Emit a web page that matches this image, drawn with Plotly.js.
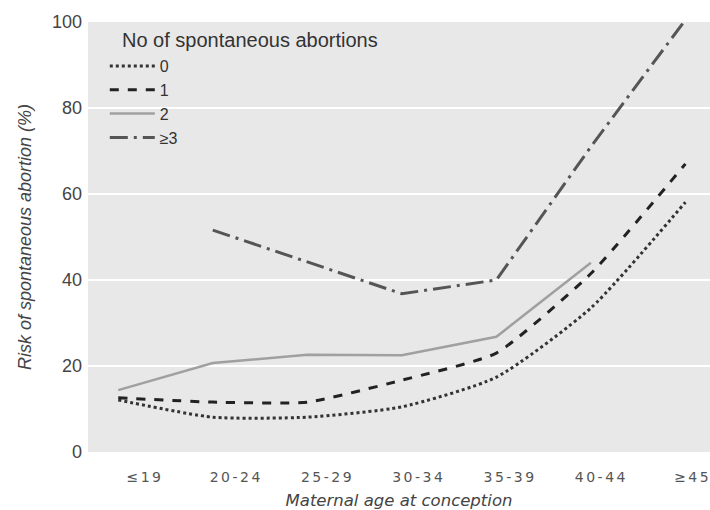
<!DOCTYPE html>
<html><head><meta charset="utf-8">
<script src="https://cdn.plot.ly/plotly-3.0.1.min.js"></script>
<style>
body{margin:0;background:#fff}
.x2tick text{letter-spacing:2.5px}
</style>
</head><body>
<div id="chart" style="width:710px;height:510px"></div>
<script>
const categories = ["≤19","20-24","25-29","30-34","35-39","40-44","≥45"];
const seriesNames = ["0","1","2","≥3"];
const legendTitle = "No of spontaneous abortions";
const risk0 = [12.1, 8.1, 8.1, 10.5, 17.4, 33.5, 58.1];
const risk1 = [12.6, 11.6, 11.6, 16.7, 23.0, 41.5, 67.0];
const risk2 = [14.4, 20.7, 22.6, 22.5, 26.8, 44.0, null];
const risk3 = [null, 51.6, 44.2, 36.8, 40.0, 71.0, 100.5];

const common = {type:'scatter', mode:'lines', x: categories, hoverinfo:'skip'};
const traces = [
  Object.assign({}, common, {name: seriesNames[0], y: risk0, line:{color:'#333', width:3, dash:'dot', shape:'spline', smoothing:0.6}}),
  Object.assign({}, common, {name: seriesNames[1], y: risk1, line:{color:'#222', width:3, dash:'dash', shape:'spline', smoothing:0.5}}),
  Object.assign({}, common, {name: seriesNames[2], y: risk2, line:{color:'#a0a0a0', width:2.5}}),
  Object.assign({}, common, {name: seriesNames[3], y: risk3, line:{color:'#555', width:3, dash:'18px,6px,3px,6px'}}),
  // label axis carrier (no visible marks)
  {type:'scatter', mode:'none', x: categories, y: categories.map(() => null), xaxis:'x2', yaxis:'y', showlegend:false, hoverinfo:'skip'}
];

const layout = {
  width:710, height:510,
  margin:{l:88, r:0, t:22, b:58},
  paper_bgcolor:'#ffffff', plot_bgcolor:'#e8e8e8',
  font:{family:'Liberation Sans, Arial, sans-serif', color:'#444'},
  showlegend:true,
  legend:{
    x:0.027, y:0.937, xanchor:'left', yanchor:'top',
    bgcolor:'rgba(0,0,0,0)', borderwidth:0, itemwidth:45,
    font:{size:16, color:'#333'},
    tracegroupgap:0
  },
  annotations:[{
    text: legendTitle, xref:'paper', yref:'paper', x:0.0514, y:0.958,
    xanchor:'left', yanchor:'middle', showarrow:false,
    font:{size:20, color:'#333'}
  }],
  xaxis:{
    type:'category', range:[-0.32, 6.26],
    showgrid:false, zeroline:false, showline:false, ticks:'', showticklabels:false
  },
  xaxis2:{
    type:'category', overlaying:'x', anchor:'y', side:'bottom', range:[-0.624, 6.19],
    showgrid:false, zeroline:false, showline:false, ticks:'',
    tickfont:{family:'DejaVu Sans, sans-serif', size:14, color:'#555'}, ticklabelstandoff:15,
    title:{text:'<i>Maternal age at conception</i>', font:{family:'DejaVu Sans, sans-serif', size:16.5, color:'#444'}, standoff:11}
  },
  yaxis:{
    range:[0,100], tickvals:[0,20,40,60,80,100],
    showgrid:true, gridcolor:'#ffffff', gridwidth:2, zeroline:false, showline:false, ticks:'',
    tickfont:{size:18, color:'#444'}, ticklabelstandoff:5,
    title:{text:'<i>Risk of spontaneous abortion (%)</i>', font:{size:18, color:'#444'}, standoff:15}
  },
  shapes:[{type:'rect', xref:'paper', yref:'y', x0:0, x1:0.165, y0:78.5, y1:81.5, layer:'between', fillcolor:'#e8e8e8', line:{width:0}}]
};
Plotly.newPlot('chart', traces, layout, {staticPlot:true, displayModeBar:false});
</script>
</body></html>
